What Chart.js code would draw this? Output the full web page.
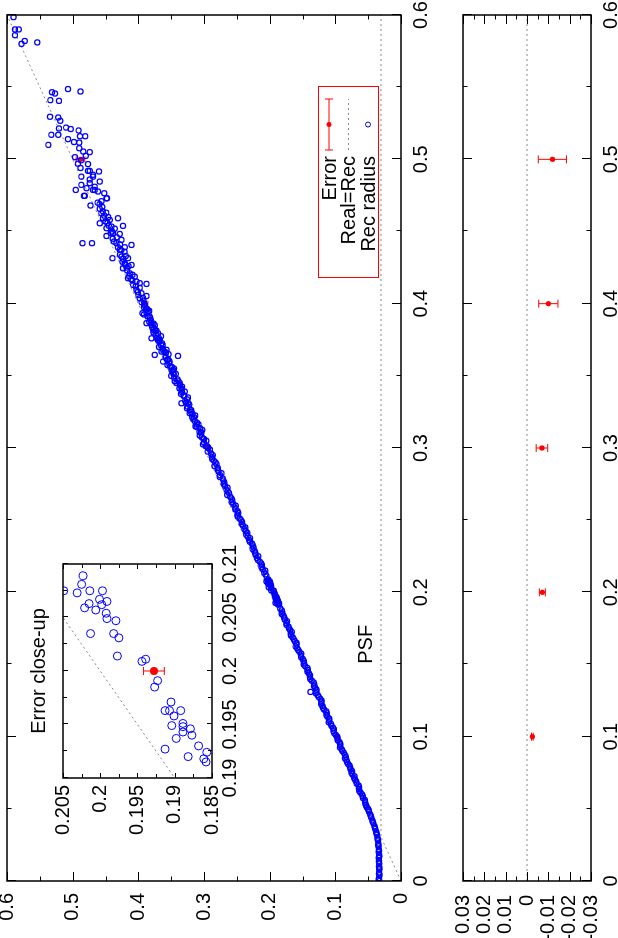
<!DOCTYPE html>
<html>
<head>
<meta charset="utf-8">
<script src="https://cdn.jsdelivr.net/npm/chart.js@4.4.1/dist/chart.umd.min.js"></script>
<style>
  html, body { margin: 0; padding: 0; background: #fff; overflow: hidden; width: 618px; height: 938px; }
  /* the gnuplot page is landscape, turned a quarter left */
  #page { position: absolute; left: 0; top: 0; width: 938px; height: 618px;
          transform-origin: 0 0; transform: translate(0, 938px) rotate(-90deg); background: #fff; }
  canvas { position: absolute; }
</style>
</head>
<body>
<div id="page">
  <canvas id="mainChart" width="938" height="440" style="left:0;top:0"></canvas>
  <canvas id="resChart" width="938" height="178" style="left:0;top:440px"></canvas>
  <canvas id="zoomChart" width="300" height="228" style="left:100px;top:22px"></canvas>
</div>
<script>
// ---- data ----
var realRadius = [0.1, 0.2, 0.3, 0.4, 0.5];
var errorRec   = [0.0975, 0.1928, 0.2930, 0.3900, 0.4881];
var errorSize  = [0.0004, 0.0014, 0.0027, 0.0045, 0.0066];
var residual   = [-0.0025, -0.0072, -0.0070, -0.0100, -0.0119];
var psfRadius  = 0.0305;
var realEqualsRec = [0, 0.6];
var legendLabels = ['Error', 'Real=Rec', 'Rec radius'];

// real radius, reconstructed radius
var recRadius = [
  [0.000,0.0330],[0.001,0.0338],[0.002,0.0335],[0.004,0.0328],[0.005,0.0336],[0.006,0.0333],[0.008,0.0331],
  [0.009,0.0329],[0.010,0.0336],[0.012,0.0332],[0.013,0.0337],[0.014,0.0334],[0.016,0.0338],[0.017,0.0331],
  [0.018,0.0333],[0.020,0.0341],[0.021,0.0336],[0.022,0.0337],[0.024,0.0343],[0.025,0.0348],[0.026,0.0345],
  [0.028,0.0352],[0.029,0.0356],[0.030,0.0358],[0.032,0.0368],[0.033,0.0372],[0.034,0.0376],[0.036,0.0392],
  [0.037,0.0398],[0.038,0.0405],[0.040,0.0421],[0.041,0.0430],[0.042,0.0436],[0.044,0.0452],[0.045,0.0459],
  [0.046,0.0468],[0.048,0.0487],[0.049,0.0493],[0.050,0.0502],
  [0.0512,0.0522],[0.0562,0.0552],[0.0612,0.0618],[0.0662,0.0648],[0.0712,0.0714],[0.0762,0.0745],[0.0812,0.0808],
  [0.0862,0.0840],[0.0912,0.0902],[0.0962,0.0938],[0.1012,0.0995],[0.1062,0.1035],[0.1112,0.1092],[0.1162,0.1130],
  [0.1212,0.1195],[0.1262,0.1228],[0.1312,0.1290],[0.1362,0.1322],[0.1412,0.1388],[0.1462,0.1420],[0.1512,0.1478],
  [0.1562,0.1525],[0.1612,0.1580],[0.1662,0.1618],[0.1712,0.1680],[0.1762,0.1712],[0.1812,0.1770],[0.1862,0.1808],
  [0.0525,0.0533],[0.0538,0.0545],[0.055,0.0547],[0.0575,0.0579],[0.0588,0.0583],[0.060,0.0594],[0.0625,0.0635],
  [0.0638,0.0640],[0.065,0.0638],[0.0675,0.0676],[0.0688,0.0680],[0.070,0.0698],[0.0725,0.0707],[0.0738,0.0740],
  [0.075,0.0754],[0.0775,0.0769],[0.0788,0.0775],[0.080,0.0784],[0.0825,0.0822],[0.0838,0.0830],[0.085,0.0852],
  [0.0875,0.0855],[0.0888,0.0870],[0.090,0.0891],[0.0925,0.0928],[0.0938,0.0925],[0.095,0.0926],[0.0975,0.0964],
  [0.0988,0.0968],[0.100,0.0970],[0.1025,0.1019],[0.1038,0.1030],[0.105,0.1022],[0.1075,0.1060],[0.1088,0.1065],
  [0.110,0.1100],[0.1125,0.1093],[0.1138,0.1120],[0.115,0.1134],[0.1175,0.1139],[0.1188,0.1172],[0.120,0.1188],
  [0.1225,0.1217],[0.1238,0.1212],[0.125,0.1210],[0.1275,0.1253],[0.1288,0.1268],[0.130,0.1295],[0.131,0.1380],
  [0.1325,0.1287],[0.1338,0.1305],[0.135,0.1326],[0.1375,0.1330],[0.1388,0.1361],[0.140,0.1382],[0.1425,0.1385],
  [0.1438,0.1400],[0.145,0.1424],[0.1475,0.1425],[0.1488,0.1460],[0.150,0.1480],[0.1525,0.1480],[0.1538,0.1498],
  [0.155,0.1520],[0.1575,0.1520],[0.1588,0.1548],[0.160,0.1565],[0.1625,0.1605],[0.1638,0.1590],[0.165,0.1592],
  [0.1675,0.1635],[0.1688,0.1650],[0.170,0.1675],[0.1725,0.1663],[0.1738,0.1688],[0.175,0.1705],[0.1775,0.1745],
  [0.1788,0.1745],[0.180,0.1735],[0.1825,0.1777],[0.1838,0.1790],[0.185,0.1815],[0.1875,0.1815],[0.1888,0.1840],
  [0.1915,0.1858],[0.1918,0.1861],[0.1924,0.1857],[0.1920,0.1882],[0.1927,0.1913],[0.1930,0.1868],[0.1937,0.1898],
  [0.1940,0.1877],[0.1946,0.1879],[0.1943,0.1889],[0.1948,0.1889],[0.1949,0.1904],[0.1951,0.1889],[0.1958,0.1901],
  [0.1963,0.1892],[0.1963,0.1907],[0.1963,0.1913],[0.1971,0.1905],[0.1985,0.1927],[0.1991,0.1923],[0.2011,0.1939],
  [0.2009,0.1944],[0.2014,0.1977],[0.2031,0.1975],[0.2035,0.1982],[0.2035,0.2013],[0.2047,0.1979],[0.2049,0.1991],
  [0.2054,0.1992],[0.2057,0.2006],[0.2062,0.1998],[0.2065,0.1991],[0.2067,0.2001],[0.2059,0.2021],[0.2063,0.2015],
  [0.2075,0.1997],[0.2075,0.2014],[0.2073,0.2031],[0.2081,0.2025],[0.2089,0.2023],[0.2075,0.2049],
  [0.2112,0.2050],[0.2162,0.2105],[0.2212,0.2150],[0.2262,0.2215],[0.2312,0.2245],[0.2362,0.2310],[0.2412,0.2340],
  [0.2462,0.2405],[0.2512,0.2455],[0.2562,0.2490],[0.2612,0.2555],[0.2662,0.2600],[0.2712,0.2660],[0.2762,0.2690],
  [0.2812,0.2755],[0.2862,0.2790],[0.2912,0.2850],[0.2962,0.2895],[0.3012,0.2950],[0.3062,0.3000],[0.3112,0.3045],
  [0.3162,0.3110],[0.3212,0.3150],[0.3262,0.3195],[0.3312,0.3240],[0.3362,0.3310],[0.3412,0.3345],[0.3462,0.3390],
  [0.3512,0.3460],[0.3562,0.3490],[0.3612,0.3545],[0.3662,0.3580],[0.3712,0.3630],[0.3762,0.3690],[0.3812,0.3740],
  [0.3862,0.3770],[0.3912,0.3830],[0.3962,0.3865],
  [0.2125,0.2065],[0.2138,0.2085],[0.215,0.2068],[0.2175,0.2125],[0.2188,0.2118],[0.220,0.2130],[0.2225,0.2180],
  [0.2238,0.2195],[0.225,0.2175],[0.2275,0.2220],[0.2288,0.2230],[0.230,0.2260],[0.2325,0.2257],[0.2338,0.2270],
  [0.235,0.2300],[0.2375,0.2300],[0.2388,0.2335],[0.240,0.2358],[0.2425,0.2365],[0.2438,0.2385],[0.245,0.2370],
  [0.2475,0.2427],[0.2488,0.2420],[0.250,0.2435],[0.2525,0.2487],[0.2538,0.2490],[0.255,0.2478],[0.2575,0.2520],
  [0.2588,0.2530],[0.260,0.2515],[0.2625,0.2580],[0.2638,0.2570],[0.265,0.2582],[0.2675,0.2645],[0.2688,0.2620],
  [0.270,0.2640],[0.2725,0.2643],[0.2738,0.2680],[0.275,0.2700],[0.2775,0.2705],[0.2788,0.2715],[0.280,0.2760],
  [0.2825,0.2735],[0.2838,0.2780],[0.285,0.2792],[0.2875,0.2840],[0.2888,0.2810],[0.290,0.2825],[0.2925,0.2875],
  [0.2938,0.2880],[0.295,0.2865],[0.2975,0.2945],[0.2988,0.2910],[0.300,0.2935],
  [0.3037,0.3000],[0.3087,0.3065],[0.3137,0.3060],[0.3187,0.3140],[0.3237,0.3175],[0.3287,0.3250],[0.3337,0.3260],
  [0.3387,0.3335],[0.3437,0.3365],[0.3487,0.3455],[0.3537,0.3490],[0.3587,0.3530],[0.3637,0.3585],[0.3687,0.3630],
  [0.3737,0.3680],[0.3787,0.3735],[0.3837,0.3790],[0.3887,0.3810],[0.3937,0.3875],[0.3987,0.3900],
  [0.3013,0.2975],[0.3025,0.3015],[0.305,0.2965],[0.3063,0.3010],[0.3075,0.3035],[0.310,0.3040],[0.3113,0.3070],
  [0.3125,0.3025],[0.3148,0.3114],[0.315,0.3130],[0.3163,0.3085],[0.3175,0.3105],[0.320,0.3165],[0.3213,0.3180],
  [0.3225,0.3135],[0.3241,0.3216],[0.325,0.3200],[0.3263,0.3215],[0.3275,0.3260],[0.330,0.3225],[0.331,0.3343],
  [0.3313,0.3270],[0.3325,0.3285],[0.335,0.3245],[0.3363,0.3300],[0.3375,0.3350],[0.3391,0.3293],[0.340,0.3340],
  [0.3413,0.3375],[0.3425,0.3335],[0.3449,0.3369],[0.345,0.3420],[0.3463,0.3445],[0.3475,0.3405],[0.350,0.3500],
  [0.3513,0.3430],[0.3525,0.3470],[0.3541,0.3470],[0.355,0.3455],[0.3563,0.3515],[0.3575,0.3555],[0.3599,0.3623],
  [0.360,0.3525],[0.3613,0.3560],[0.3625,0.3585],[0.3638,0.3395],[0.3645,0.3750],[0.365,0.3540],[0.3663,0.3600],
  [0.3668,0.3648],[0.3675,0.3615],[0.368,0.3572],[0.370,0.3685],[0.3713,0.3655],[0.3725,0.3640],[0.3749,0.3674],
  [0.375,0.3705],[0.376,0.3800],[0.3763,0.3720],[0.3775,0.3655],[0.3795,0.3700],[0.380,0.3770],[0.3813,0.3725],
  [0.3818,0.3775],[0.3825,0.3755],[0.385,0.3750],[0.3853,0.3800],[0.3863,0.3800],[0.3865,0.3877],[0.3875,0.3835],
  [0.390,0.3820],[0.3913,0.3860],[0.3925,0.3915],[0.3934,0.3937],[0.3945,0.3850],[0.395,0.3835],[0.3963,0.3880],
  [0.3975,0.3915],[0.400,0.3910],
  [0.401,0.3950],[0.404,0.3930],[0.408,0.4010],[0.412,0.4040],[0.417,0.4110],[0.420,0.4090],[0.425,0.4180],
  [0.427,0.4200],[0.431,0.4230],[0.433,0.4190],[0.437,0.4260],[0.441,0.4280],[0.445,0.4390],[0.449,0.4420],
  [0.454,0.4450],[0.457,0.4500],[0.461,0.4520],[0.464,0.4540],[0.469,0.4590],[0.471,0.4560],
  [0.402,0.3920],[0.4037,0.3979],[0.4053,0.3877],[0.406,0.4000],[0.4072,0.3953],[0.4095,0.4029],[0.411,0.3980],
  [0.413,0.4080],[0.4137,0.3877],[0.4142,0.3979],[0.4153,0.4029],[0.416,0.4090],[0.4176,0.4157],[0.4187,0.4055],
  [0.419,0.4140],[0.421,0.4131],[0.423,0.4170],[0.4245,0.4233],[0.426,0.4150],[0.4268,0.4105],[0.428,0.4207],
  [0.429,0.4240],[0.4315,0.4157],[0.4315,0.4395],[0.4326,0.4258],[0.434,0.4280],[0.436,0.4210],[0.4373,0.4283],
  [0.4391,0.4207],[0.439,0.4310],[0.4407,0.4105],[0.4419,0.4334],[0.4419,0.4706],[0.4419,0.4852],[0.4442,0.4258],
  [0.443,0.4370],[0.446,0.4330],[0.4469,0.4486],[0.4483,0.4283],[0.4488,0.4385],[0.450,0.4400],[0.452,0.4360],
  [0.4523,0.4486],[0.4534,0.4410],[0.4539,0.4233],[0.4557,0.4588],[0.456,0.4470],[0.458,0.4436],[0.4592,0.4310],
  [0.4592,0.4538],[0.460,0.4460],[0.4627,0.4563],[0.463,0.4490],[0.4657,0.4588],[0.467,0.4550],[0.468,0.4730],
  [0.470,0.4620],[0.473,0.4486],[0.473,0.4477],[0.4747,0.4827],[0.4747,0.4817],[0.4765,0.4520],[0.4777,0.4614],
  [0.4788,0.4690],[0.4788,0.4954],[0.4788,0.4665],[0.480,0.4790],[0.481,0.4665],[0.4823,0.4868],[0.4835,0.4740],
  [0.4846,0.4588],[0.486,0.4740],[0.488,0.4868],[0.488,0.4690],[0.4893,0.4690],[0.4916,0.4600],[0.492,0.4740],
  [0.492,0.4767],[0.494,0.4880],[0.4967,0.4767],[0.497,0.4920],[0.4993,0.4873],[0.5015,0.4965],[0.5024,0.4800],
  [0.505,0.4740],[0.5054,0.4840],[0.5077,0.4900],[0.510,0.5370],[0.5116,0.4900],[0.512,0.4980],[0.514,0.5070],
  [0.516,0.4890],[0.516,0.4810],[0.517,0.5325],[0.517,0.5220],[0.520,0.4910],[0.521,0.5030],[0.5214,0.5210],
  [0.522,0.5100],[0.5267,0.5190],[0.529,0.5220],[0.5295,0.5346],[0.5405,0.5210],[0.541,0.5340],[0.5456,0.5270],
  [0.5465,0.5315],[0.547,0.4880],[0.5487,0.5070],
  [0.580,0.5780],[0.581,0.5540],[0.582,0.5730],[0.586,0.5880],[0.590,0.5880],[0.590,0.5820],[0.5985,0.5900]
];

// ---- setup ----
var fontFamily = "'Liberation Sans', Arial, Helvetica, sans-serif";
Chart.defaults.font.family = fontFamily;
Chart.defaults.font.size = 20;
Chart.defaults.color = '#000';
Chart.defaults.animation = false;

function fmt(v) { return String(Number(Number(v).toFixed(4))); }
var recPoints = recRadius.map(function (p) { return {x: p[0], y: p[1]}; });
var errPoints = realRadius.map(function (x, i) { return {x: x, y: errorRec[i]}; });
var resPoints = realRadius.map(function (x, i) { return {x: x, y: residual[i]}; });
var idealPoints = realEqualsRec.map(function (v) { return {x: v, y: v}; });
var psfPoints = realEqualsRec.map(function (v) { return {x: v, y: psfRadius}; });
var zeroPoints = realEqualsRec.map(function (v) { return {x: v, y: 0}; });

// gnuplot style frame with inward ticks on all four sides
var framePlugin = {
  id: 'gnuFrame',
  afterDraw: function (chart, args, o) {
    var ctx = chart.ctx, a = chart.chartArea, xs = chart.scales.x, ys = chart.scales.y;
    ctx.save();
    ctx.strokeStyle = '#000';
    ctx.lineWidth = 1;
    function marks(sc, step, len, vert) {
      var n = Math.round((sc.max - sc.min) / step);
      for (var i = 0; i <= n; i++) {
        var p = Math.round(sc.getPixelForValue(sc.min + i * step)) + 0.5;
        ctx.beginPath();
        if (vert) {
          ctx.moveTo(p, a.bottom); ctx.lineTo(p, a.bottom - len);
          ctx.moveTo(p, a.top); ctx.lineTo(p, a.top + len);
        } else {
          ctx.moveTo(a.left, p); ctx.lineTo(a.left + len, p);
          ctx.moveTo(a.right, p); ctx.lineTo(a.right - len, p);
        }
        ctx.stroke();
      }
    }
    marks(xs, o.xMinor, o.minor, true);
    marks(xs, o.xMajor, o.major, true);
    marks(ys, o.yMinor, o.minor, false);
    marks(ys, o.yMajor, o.major, false);
    ctx.lineWidth = 1.5;
    ctx.strokeRect(a.left, a.top, a.right - a.left, a.bottom - a.top);
    ctx.restore();
  }
};

var errorBarPlugin = {
  id: 'errorBars',
  beforeDatasetsDraw: function (chart, args, o) {
    var ctx = chart.ctx, a = chart.chartArea, xs = chart.scales.x, ys = chart.scales.y;
    ctx.save();
    ctx.beginPath();
    ctx.rect(a.left, a.top, a.right - a.left, a.bottom - a.top);
    ctx.clip();
    ctx.strokeStyle = '#ff0000';
    ctx.lineWidth = 1;
    chart.data.datasets.forEach(function (ds) {
      if (!ds.errors) return;
      ds.data.forEach(function (d, i) {
        var px = xs.getPixelForValue(d.x);
        var lo = ys.getPixelForValue(d.y - ds.errors[i]);
        var hi = ys.getPixelForValue(d.y + ds.errors[i]);
        ctx.beginPath();
        ctx.moveTo(px, lo); ctx.lineTo(px, hi);
        ctx.moveTo(px - o.cap, lo); ctx.lineTo(px + o.cap, lo);
        ctx.moveTo(px - o.cap, hi); ctx.lineTo(px + o.cap, hi);
        ctx.stroke();
      });
    });
    ctx.restore();
  }
};

var mainNotes = {
  id: 'mainNotes',
  afterDraw: function (chart) {
    var ctx = chart.ctx, a = chart.chartArea, xs = chart.scales.x, ys = chart.scales.y;
    ctx.save();
    ctx.font = '20px ' + fontFamily;
    ctx.fillStyle = '#000';
    ctx.textAlign = 'center';
    ctx.textBaseline = 'middle';
    ctx.fillText('PSF', xs.getPixelForValue(0.164), ys.getPixelForValue(0.052));

    // key box
    var r = a.right - 72, b = a.bottom - 23, l = r - 191, t = b - 60;
    ctx.strokeStyle = '#ff0000';
    ctx.lineWidth = 1;
    ctx.strokeRect(l + 0.5, t + 0.5, r - l, b - t);
    var rows = [t + 11, t + 30, t + 50];
    ctx.textAlign = 'right';
    legendLabels.forEach(function (s, i) { ctx.fillText(s, r - 69, rows[i] + 1); });
    var s0 = r - 63, s1 = r - 12, sc = (s0 + s1) / 2;
    ctx.beginPath();
    ctx.moveTo(s0, rows[0]); ctx.lineTo(s1, rows[0]);
    ctx.moveTo(s0, rows[0] - 4); ctx.lineTo(s0, rows[0] + 4);
    ctx.moveTo(s1, rows[0] - 4); ctx.lineTo(s1, rows[0] + 4);
    ctx.stroke();
    ctx.fillStyle = '#ff0000';
    ctx.beginPath(); ctx.arc(sc, rows[0], 2.5, 0, 2 * Math.PI); ctx.fill();
    ctx.strokeStyle = '#888';
    ctx.setLineDash([2, 3]);
    ctx.beginPath(); ctx.moveTo(s0, rows[1] + 0.5); ctx.lineTo(s1, rows[1] + 0.5); ctx.stroke();
    ctx.setLineDash([]);
    ctx.strokeStyle = '#0000ff';
    ctx.beginPath(); ctx.arc(sc, rows[2], 2.5, 0, 2 * Math.PI); ctx.stroke();
    ctx.restore();
  }
};

var insetNotes = {
  id: 'insetNotes',
  beforeDraw: function (chart) {
    var ctx = chart.ctx, a = chart.chartArea;
    ctx.save();
    ctx.fillStyle = '#fff';
    ctx.fillRect(a.left, a.top, a.right - a.left, a.bottom - a.top);
    ctx.restore();
  },
  afterDraw: function (chart) {
    var ctx = chart.ctx, a = chart.chartArea;
    ctx.save();
    ctx.font = '20px ' + fontFamily;
    ctx.fillStyle = '#000';
    ctx.textAlign = 'center';
    ctx.textBaseline = 'middle';
    ctx.fillText('Error close-up', (a.left + a.right) / 2, a.top - 24);
    ctx.restore();
  }
};

function axis(min, max, step, pad, fit) {
  return {
    type: 'linear', min: min, max: max,
    grid: {display: false, drawTicks: false},
    border: {display: false},
    ticks: {stepSize: step, padding: pad, maxRotation: 0, autoSkip: false, callback: fmt},
    afterFit: fit
  };
}
function fitX(h) { return function (s) { s.height = h; s.paddingLeft = 0; s.paddingRight = 0; }; }
function fitY(w) { return function (s) { s.width = w; s.paddingTop = 0; s.paddingBottom = 0; }; }

var quiet = {legend: {display: false}, tooltip: {enabled: false}};

// ---- main panel ----
new Chart(document.getElementById('mainChart'), {
  type: 'scatter',
  data: {
    datasets: [
      {label: 'Rec radius', data: recPoints, pointRadius: 2.6, pointHoverRadius: 2.6, pointBorderWidth: 1.2,
       pointBackgroundColor: 'rgba(0,0,0,0)', pointBorderColor: '#0000ff'},
      {label: 'Error', data: errPoints, errors: errorSize, pointRadius: 2.6, pointHoverRadius: 2.6,
       pointBorderWidth: 0, pointBackgroundColor: '#ff0000', pointBorderColor: '#ff0000'},
      {label: 'Real=Rec', data: idealPoints, showLine: true, pointRadius: 0, borderColor: '#888',
       borderWidth: 1, borderDash: [2, 3]},
      {label: 'PSF', data: psfPoints, showLine: true, pointRadius: 0, borderColor: '#888',
       borderWidth: 1, borderDash: [2, 3]}
    ]
  },
  options: {
    responsive: false, animation: false, events: [],
    layout: {padding: {top: 7, right: 15, left: 0, bottom: 0}},
    scales: {x: axis(0, 0.6, 0.1, 8, fitX(39)), y: axis(0, 0.6, 0.1, 12, fitY(57))},
    plugins: Object.assign({
      gnuFrame: {xMajor: 0.1, xMinor: 0.05, yMajor: 0.1, yMinor: 0.05, major: 9, minor: 4.5},
      errorBars: {cap: 3}
    }, quiet)
  },
  plugins: [errorBarPlugin, framePlugin, mainNotes]
});

// ---- residual panel ----
new Chart(document.getElementById('resChart'), {
  type: 'scatter',
  data: {
    datasets: [
      {label: 'Error', data: resPoints, errors: errorSize, pointRadius: 2.6, pointHoverRadius: 2.6,
       pointBorderWidth: 0, pointBackgroundColor: '#ff0000', pointBorderColor: '#ff0000'},
      {label: 'zero', data: zeroPoints, showLine: true, pointRadius: 0, borderColor: '#888',
       borderWidth: 1, borderDash: [2, 3]}
    ]
  },
  options: {
    responsive: false, animation: false, events: [],
    layout: {padding: {top: 23, right: 15, left: 0, bottom: 0}},
    scales: {x: axis(0, 0.6, 0.1, 8, fitX(27)), y: axis(-0.03, 0.03, 0.01, 14, fitY(57))},
    plugins: Object.assign({
      gnuFrame: {xMajor: 0.1, xMinor: 0.05, yMajor: 0.01, yMinor: 0.005, major: 9, minor: 4.5},
      errorBars: {cap: 4}
    }, quiet)
  },
  plugins: [errorBarPlugin, framePlugin]
});

// ---- close-up inset ----
new Chart(document.getElementById('zoomChart'), {
  type: 'scatter',
  data: {
    datasets: [
      {label: 'Rec radius', data: recPoints, pointRadius: 4, pointHoverRadius: 4, pointBorderWidth: 1,
       pointBackgroundColor: 'rgba(0,0,0,0)', pointBorderColor: '#0000ff'},
      {label: 'Error', data: errPoints, errors: errorSize, pointRadius: 4, pointHoverRadius: 4,
       pointBorderWidth: 0, pointBackgroundColor: '#ff0000', pointBorderColor: '#ff0000'},
      {label: 'Real=Rec', data: idealPoints, showLine: true, pointRadius: 0, borderColor: '#888',
       borderWidth: 1, borderDash: [2, 3]}
    ]
  },
  options: {
    responsive: false, animation: false, events: [],
    layout: {padding: {top: 41, right: 26, left: 0, bottom: 0}},
    scales: {x: axis(0.19, 0.21, 0.005, 6, fitX(38)), y: axis(0.185, 0.205, 0.005, 7, fitY(60))},
    plugins: Object.assign({
      gnuFrame: {xMajor: 0.005, xMinor: 0.0025, yMajor: 0.005, yMinor: 0.0025, major: 5, minor: 4},
      errorBars: {cap: 4}
    }, quiet)
  },
  plugins: [insetNotes, errorBarPlugin, framePlugin]
});
</script>
</body>
</html>
